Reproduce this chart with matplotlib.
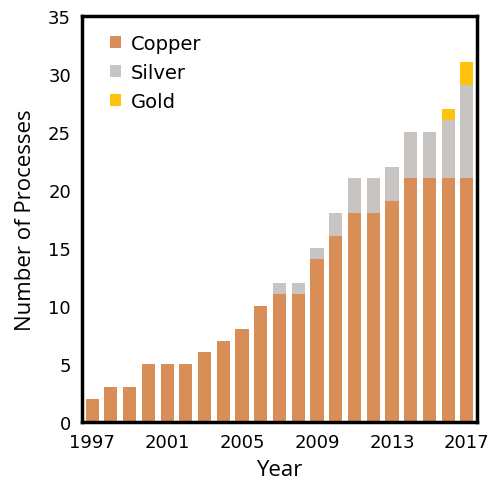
import numpy as np
import matplotlib.pyplot as plt

years = np.arange(1997, 2018)
copper = [2, 3, 3, 5, 5, 5, 6, 7, 8, 10, 11, 11, 14, 16, 18, 18, 19, 21, 21, 21, 21]
silver = [0, 0, 0, 0, 0, 0, 0, 0, 0, 0, 1, 1, 1, 2, 3, 3, 3, 4, 4, 5, 8]
gold = [0, 0, 0, 0, 0, 0, 0, 0, 0, 0, 0, 0, 0, 0, 0, 0, 0, 0, 0, 1, 2]

copper = np.array(copper)
silver = np.array(silver)
gold = np.array(gold)

fig = plt.figure(figsize=(4.92, 4.81), dpi=100)
ax = fig.add_axes([0.167, 0.121, 0.803, 0.844])

w = 0.7
ax.bar(years, copper, width=w, color="#D98E57", label="Copper")
ax.bar(years, silver, width=w, bottom=copper, color="#C8C4C2", label="Silver")
ax.bar(years, gold, width=w, bottom=copper + silver, color="#FFC20E", label="Gold")

ax.set_xlim(1996.47, 2017.55)
ax.set_ylim(0, 35)
ax.set_xticks(np.arange(1997, 2018, 4))
ax.set_yticks(np.arange(0, 36, 5))
ax.tick_params(length=0, labelsize=13, pad=8)
for s in ax.spines.values():
    s.set_linewidth(2.5)

ax.set_xlabel("Year", fontsize=16, family="Open Sans", labelpad=6)
ax.set_ylabel("Number of Processes", fontsize=16, family="Open Sans", labelpad=9)

ax.legend(loc="upper left", frameon=False, fontsize=14, handlelength=0.55,
          handleheight=0.55, handletextpad=0.5, labelspacing=0.5,
          bbox_to_anchor=(0.027, 0.998))

fig.savefig("out.png", dpi=100)
